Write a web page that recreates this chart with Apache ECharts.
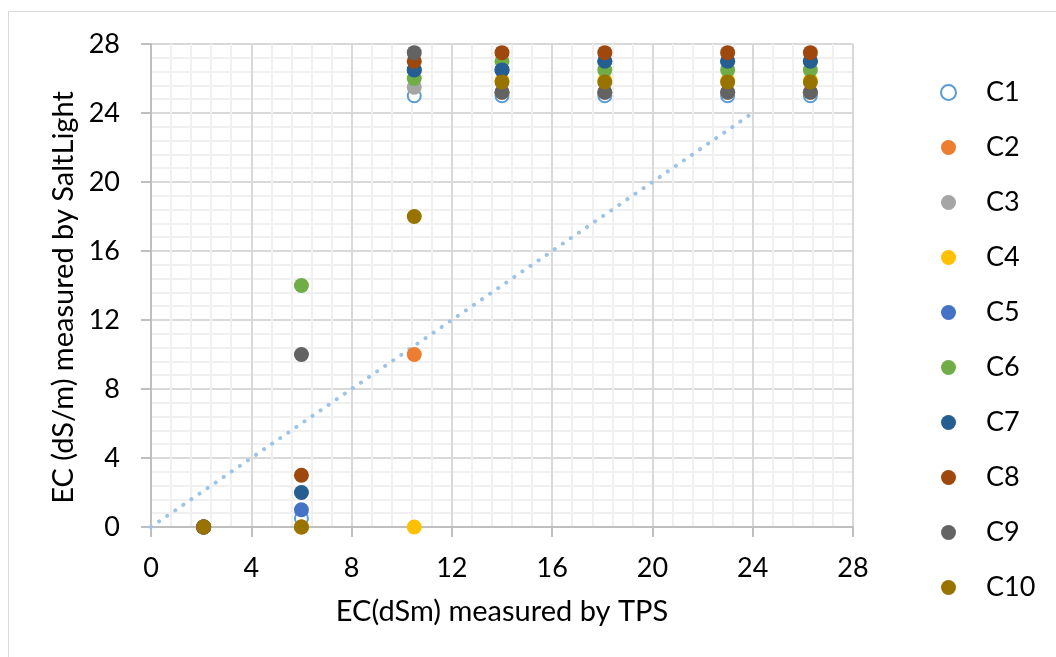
<!DOCTYPE html>
<html>
<head>
<meta charset="utf-8">
<script src="https://cdn.jsdelivr.net/npm/echarts@6/dist/echarts.min.js"></script>
<style>
  html, body { margin: 0; padding: 0; background: #fff; }
  #chart { width: 1056px; height: 657px; }
</style>
</head>
<body>
<div id="chart"></div>
<script>
// EC measured by TPS (x) for each sample
const tpsValues = [2.1, 6, 10.5, 14, 18.1, 23, 26.3];

// EC measured by SaltLight per sensor
const c1 = [0, 0.5, 25, 25, 25, 25, 25];
const c2 = [0, 0, 10, 25.2, 25.2, 25.2, 25.2];
const c3 = [0, 0, 25.5, 25.2, 25.2, 25.2, 25.2];
const c4 = [0, 0, 0, 25.9, 25.9, 25.9, 25.9];
const c5 = [0, 1, 26.5, 26.5, 27, 27, 27];
const c6 = [0, 14, 26, 27, 26.5, 26.5, 26.5];
const c7 = [0, 2, 26.5, 26.5, 27, 27, 27];
const c8 = [0, 3, 27, 27.5, 27.5, 27.5, 27.5];
const c9 = [0, 10, 27.5, 25.2, 25.2, 25.2, 25.2];
const c10 = [0, 0, 18, 25.8, 25.8, 25.8, 25.8];

const seriesNames = ['C1', 'C2', 'C3', 'C4', 'C5', 'C6', 'C7', 'C8', 'C9', 'C10'];
const seriesValues = [c1, c2, c3, c4, c5, c6, c7, c8, c9, c10];
const seriesColors = ['#5B9BD5', '#ED7D31', '#A5A5A5', '#FFC000', '#4472C4',
  '#70AD47', '#255E91', '#9E480E', '#636363', '#997300'];

// 1:1 reference line
const lineX = [0, 24];
const lineY = [0, 24];

const axisTicks = [0, 4, 8, 12, 16, 20, 24, 28];

const font = 'Lato, "Open Sans", sans-serif';

const chart = echarts.init(document.getElementById('chart'));

const scatterSeries = seriesNames.map((name, i) => ({
  name: name,
  type: 'scatter',
  symbol: i === 0 ? 'emptyCircle' : 'circle',
  symbolSize: i === 0 ? 13 : 15,
  data: tpsValues.map((x, j) => [x, seriesValues[i][j]]),
  itemStyle: i === 0
    ? { color: '#5B9BD5', borderColor: '#5B9BD5', borderWidth: 2, opacity: 1 }
    : { color: seriesColors[i], opacity: 1 },
  z: 3,
}));

const axisCommon = {
  type: 'value',
  min: axisTicks[0],
  max: axisTicks[axisTicks.length - 1],
  interval: 4,
  nameLocation: 'middle',
  nameTextStyle: { fontFamily: font, fontSize: 29, color: '#000' },
  axisLine: { show: true, onZero: false, lineStyle: { color: '#BFBFBF', width: 2 } },
  axisTick: { show: true, length: 10, lineStyle: { color: '#BFBFBF', width: 2 } },
  axisLabel: { fontFamily: font, fontSize: 27, color: '#000' },
  splitLine: { show: true, lineStyle: { color: '#D9D9D9', width: 2 } },
  minorTick: { show: false, splitNumber: 5 },
  minorSplitLine: { show: true, lineStyle: { color: '#F0F0F0', width: 2 } },
};

const option = {
  backgroundColor: '#fff',
  animation: false,
  graphic: [{
    type: 'rect',
    shape: { x: 8.5, y: 11.5, width: 1100, height: 700 },
    style: { fill: 'none', stroke: '#D9D9D9', lineWidth: 1 },
    silent: true,
  }],
  grid: { left: 151, right: 203, top: 44, bottom: 130 },
  legend: {
    orient: 'vertical',
    left: 935,
    top: 74,
    itemWidth: 15,
    itemHeight: 15,
    itemGap: 28,
    data: seriesNames,
    textStyle: { fontFamily: font, fontSize: 27, color: '#000', padding: [0, 0, 0, 25] },
  },
  xAxis: Object.assign({}, axisCommon, {
    name: 'EC(dSm) measured by TPS',
    nameGap: 70,
    axisLabel: Object.assign({}, axisCommon.axisLabel, { margin: 28 }),
  }),
  yAxis: Object.assign({}, axisCommon, {
    name: 'EC (dS/m) measured by SaltLight',
    nameGap: 73,
    nameTextStyle: Object.assign({}, axisCommon.nameTextStyle, { padding: [0, 24, 0, 0] }),
    axisLabel: Object.assign({}, axisCommon.axisLabel, { margin: 31 }),
  }),
  series: [{
    name: 'line',
    type: 'line',
    data: lineX.map((x, i) => [x, lineY[i]]),
    symbol: 'none',
    lineStyle: { color: '#9DC3E6', width: 4, type: [0.1, 9.7], cap: 'round' },
    z: 1,
  }].concat(scatterSeries),
};

chart.setOption(option);
</script>
</body>
</html>
